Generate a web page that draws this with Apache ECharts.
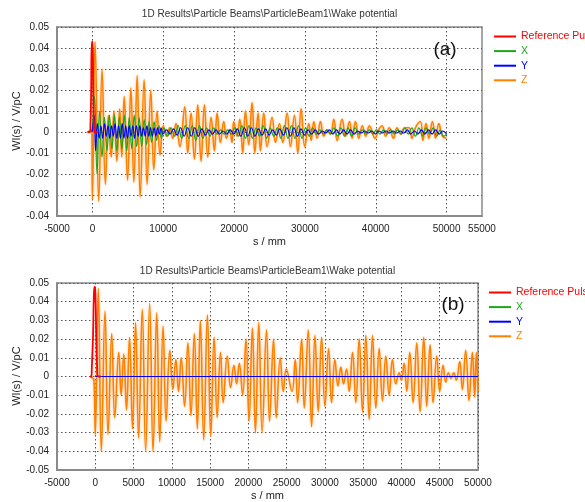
<!DOCTYPE html>
<html><head><meta charset="utf-8">
<script src="https://cdn.jsdelivr.net/npm/echarts@6.0.0/dist/echarts.min.js"></script>
<style>html,body{margin:0;padding:0;background:#fff}#c{width:585px;height:502px}</style>
</head><body><div id="c"></div>
<script>
// ---------- data (s in mm, W in V/pC) ----------
const seriesNames = ['Reference Pulse', 'X', 'Y', 'Z'];
const seriesColors = ['#ff0000', '#1aa81a', '#0000ff', '#ff8000'];
const yTicksA = [-0.04, 0.05];
const yTicksB = [-0.05, 0.05];
const xRangeA = [-5000, 55000];
const xRangeB = [-5000, 50000];

// (a) panel
const refA = [[-700,0],[-350,0],[-280,0.003],[-190,0.017],[-80,0.043],[20,0.043],[130,0.017],[220,0.003],[300,0],[700,0]];
const xA = [[-100,0],[0,0.002],[300,0.017],[650,-0.020],[1000,0.010],[1350,-0.012],[1700,0.007],[2050,-0.009],[2400,0.008],[2750,-0.008],[3100,0.008],[3450,-0.009],[3800,0.007],[4150,-0.008],[4500,0.008],[4850,-0.009],[5200,0.007],[5550,-0.008],[5900,0.008],[6250,-0.007],[6600,0.007],[6950,-0.007],[7300,0.006],[7650,-0.006],[8000,0.005],[8350,-0.005],[8700,0.005],[9050,-0.004],[9400,0.003],[9750,-0.003],[10100,0.002],[10600,-0.002],[11100,0.002],[11600,-0.002],[12100,0.003],[12600,-0.003],[13100,0.003],[13600,-0.003],[14100,0.003],[14600,-0.004],[15100,0.003],[15600,-0.003],[16100,0.002],[16600,-0.002],[17100,0.002],[17600,-0.001],[18100,0.001],[18600,-0.001],[19100,0.001],[19600,-0.001],[20100,0.002],[20600,-0.002],[21100,0.003],[21600,-0.003],[22100,0.003],[22600,-0.003],[23100,0.002],[23600,-0.002],[24100,0.003],[24600,-0.003],[25100,0.002],[25600,-0.002],[26100,0.002],[26600,-0.003],[27100,0.003],[27600,-0.003],[28100,0.003],[28600,-0.003],[29100,0.003],[29600,-0.003],[30100,0.002],[30600,-0.002],[31100,0.002],[31600,-0.001],[32100,0.001],[32600,-0.001],[33100,0.001],[33600,-0.001],[34100,0.002],[34600,-0.002],[35100,0.002],[35600,-0.002],[36100,0.002],[36600,-0.002],[37100,0.002],[37600,-0.001],[38100,0.001],[38600,-0.001],[39100,0.001],[39600,-0.001],[40100,0.001],[40600,-0.001],[41100,0.001],[41600,-0.001],[42100,0.001],[42600,-0.001],[43100,0.001],[43600,-0.001],[44100,0.002],[44600,-0.001],[45100,0.002],[45600,-0.002],[46100,0.002],[46600,-0.002],[47100,0.002],[47600,-0.001],[48100,0.002],[48600,-0.002],[49100,0.001],[49600,-0.002],[50000,-0.001]];
const yA = [[-100,0],[0,0.001],[250,0.008],[450,-0.009],[700,0.004],[950,-0.003],[1200,0.003],[1450,-0.003],[1700,0.004],[1950,-0.002],[2200,0.003],[2450,-0.003],[2700,0.003],[2950,-0.002],[3200,0.004],[3450,-0.003],[3700,0.003],[3950,-0.003],[4200,0.004],[4450,-0.003],[4700,0.003],[4950,-0.003],[5200,0.003],[5450,-0.002],[5700,0.003],[5950,-0.003],[6200,0.003],[6450,-0.002],[6700,0.003],[6950,-0.002],[7200,0.002],[7450,-0.002],[7700,0.003],[7950,-0.002],[8200,0.002],[8450,-0.002],[8700,0.002],[8950,-0.002],[9200,0.002],[9450,-0.001],[9700,0.002],[9950,-0.001],[10450,0.001],[10950,-0.001],[11450,0.0015],[11950,-0.0015],[12450,0.002],[12950,-0.002],[13450,0.002],[13950,-0.002],[14450,0.002],[14950,-0.002],[15450,0.0015],[15950,-0.0015],[16450,0.001],[16950,-0.001],[17450,0.001],[17950,-0.001],[18450,0.0005],[18950,-0.001],[19450,0.001],[19950,-0.001],[20450,0.0015],[20950,-0.002],[21450,0.002],[21950,-0.002],[22450,0.002],[22950,-0.002],[23450,0.0015],[23950,-0.0015],[24450,0.0015],[24950,-0.0015],[25450,0.001],[25950,-0.0015],[26450,0.0015],[26950,-0.0015],[27450,0.002],[27950,-0.002],[28450,0.002],[28950,-0.002],[29450,0.0015],[29950,-0.0015],[30450,0.001],[30950,-0.001],[31450,0.001],[31950,-0.001],[32450,0.0005],[32950,-0.0005],[33450,0.001],[33950,-0.001],[34450,0.001],[34950,-0.001],[35450,0.001],[35950,-0.001],[36450,0.001],[36950,-0.001],[37450,0.0005],[37950,-0.0005],[38450,0.0005],[38950,-0.0005],[39450,0.0005],[39950,-0.001],[40450,0.0005],[40950,-0.0005],[41450,0.0005],[41950,-0.0005],[42450,0.0005],[42950,-0.0005],[43450,0.0005],[43950,-0.0005],[44450,0.001],[44950,-0.001],[45450,0.0005],[45950,-0.001],[46450,0.001],[46950,-0.001],[47450,0.001],[47950,-0.001],[48450,0.001],[48950,-0.001],[49450,0.0005],[50000,-0.001]];
const zA = [[-650,0],[-100,0.001],[0,-0.032],[370,0.043],[890,-0.033],[1360,0.030],[1830,-0.025],[2250,0.008],[2650,-0.012],[3050,0.010],[3450,-0.014],[3850,0.011],[4150,-0.012],[4490,0.017],[4960,-0.023],[5430,0.021],[5850,-0.024],[6320,0.027],[6740,-0.031],[7300,0.025],[7720,-0.025],[8240,0.020],[8660,-0.018],[9130,0.010],[9550,-0.011],[10000,0.003],[10450,-0.002],[10900,0.002],[11350,-0.003],[11800,0.004],[12350,-0.007],[13032,0.012],[13456,-0.010],[13927,0.009],[14397,-0.013],[14868,0.013],[15339,-0.014],[15810,0.013],[16281,-0.012],[16752,0.007],[17222,-0.009],[17599,0.009],[18070,-0.005],[18540,0.005],[18917,-0.003],[19341,0.001],[19717,-0.005],[19953,0.005],[20424,-0.002],[20800,0.006],[21224,-0.010],[21600,0.010],[22071,-0.006],[22542,0.014],[22919,-0.010],[23390,0.009],[23719,-0.009],[24190,0.009],[24661,-0.007],[25367,0.007],[25838,-0.005],[26403,0.004],[26874,-0.005],[27486,0.009],[27957,-0.007],[28522,0.008],[28993,-0.010],[29464,0.011],[29981,-0.007],[30546,0.004],[30876,-0.004],[31253,0.005],[31723,-0.003],[32194,0.005],[32665,-0.002],[33136,0.001],[33607,-0.001],[34078,0.006],[34549,-0.004],[35254,0.006],[35725,-0.002],[36290,0.005],[36667,-0.003],[37138,0.005],[37600,-0.003],[38100,0.003],[38600,-0.002],[39100,0.003],[39900,-0.003],[40400,0.001],[40900,0.003],[41400,-0.002],[41900,0.002],[42500,-0.003],[43000,0.002],[43500,-0.001],[44100,0.002],[44700,0.002],[45100,-0.003],[45600,0.002],[46300,0.005],[46650,-0.004],[47100,0.004],[47500,-0.003],[48000,0.005],[48450,-0.003],[48900,0.004],[49400,-0.002],[50000,-0.003]];

// (b) panel
const refB = [[-700,0],[-500,0],[-450,0.005],[-300,0.021],[-180,0.044],[-80,0.048],[20,0.044],[130,0.021],[250,0.005],[350,0],[700,0]];
const xB = [[0,0],[50000,0]];
const yB = [[0,0],[50000,0]];
const zB = [[-600,0],[-175,-0.002],[0,-0.031],[395,0.047],[790,-0.040],[1272,0.035],[1667,-0.031],[2149,0.023],[2544,-0.022],[3070,0.013],[3377,-0.010],[3728,0.012],[4079,-0.018],[4474,0.021],[4868,-0.028],[5263,0.029],[5658,-0.033],[6140,0.036],[6579,-0.040],[7105,0.039],[7544,-0.040],[8026,0.034],[8421,-0.035],[8860,0.027],[9254,-0.024],[9737,0.014],[10132,-0.007],[10526,0.009],[10877,-0.008],[11228,0.010],[11667,-0.016],[12105,0.018],[12500,-0.021],[12939,0.023],[13333,-0.028],[13728,0.030],[14167,-0.034],[14649,0.033],[15088,-0.032],[15526,0.021],[15921,-0.022],[16360,0.013],[16711,-0.014],[17237,0.011],[17675,-0.006],[18114,0.006],[18465,-0.004],[18816,0.007],[19254,-0.010],[19693,0.020],[20088,-0.024],[20526,0.026],[20921,-0.030],[21360,0.029],[21798,-0.030],[22368,0.025],[22763,-0.024],[23289,0.020],[23640,-0.022],[24167,0.010],[24561,-0.008],[24956,0.004],[25696,-0.008],[26130,0.009],[26435,-0.014],[26957,0.020],[27304,-0.017],[27826,0.025],[28261,-0.027],[28696,0.022],[29130,-0.019],[29565,0.021],[30000,-0.016],[30478,0.015],[30870,-0.014],[31304,0.009],[31696,-0.005],[32087,0.005],[32435,-0.004],[32826,0.004],[33174,-0.008],[33609,0.013],[34043,-0.014],[34478,0.020],[34913,-0.019],[35348,0.022],[35783,-0.023],[36217,0.022],[36652,-0.017],[37087,0.015],[37522,-0.013],[37957,0.011],[38391,-0.010],[38826,0.009],[39261,-0.004],[39696,0.002],[40000,-0.002],[40348,0.007],[40696,-0.008],[41087,0.013],[41522,-0.014],[42000,0.018],[42435,-0.019],[42913,0.021],[43304,-0.016],[43739,0.017],[44130,-0.014],[44609,0.011],[45000,-0.008],[45435,0.006],[45783,-0.003],[46130,0.002],[46478,-0.001],[46826,0.002],[47174,-0.002],[47609,0.008],[47957,-0.007],[48391,0.014],[48826,-0.013],[49261,0.013],[49565,-0.011],[49783,0.013],[50000,-0.008]];

const titleText = '1D Results\\Particle Beams\\ParticleBeam1\\Wake potential';
const yName = 'Wl(s) / V/pC';
const xName = 's / mm';

// ---------- chart ----------
const FONT = 'Liberation Sans, Arial, sans-serif';
const chart = echarts.init(document.getElementById('c'), null, {renderer: 'canvas'});
const fmtY = v => String(Math.round(v * 100) / 100);
const grids = [
  {left: 57, top: 27, width: 425, height: 189},
  {left: 57, top: 283, width: 421, height: 187}
];
const dotted = {color: '#555', width: 1, type: [1.5, 2.5]};
function xAxisCfg(idx, range, labelFilter, splitColor) {
  return {
    type: 'value', gridIndex: idx, min: range[0], max: range[1], interval: 5000,
    axisLine: {show: true, onZero: false, lineStyle: {color: '#8a8a8a', width: 2}},
    axisTick: {show: false},
    axisLabel: {show: true, interval: 0, hideOverlap: false, margin: 8, color: '#222', fontSize: 10, fontFamily: FONT,
      showMinLabel: true, showMaxLabel: true,
      formatter: v => labelFilter(v) ? String(v) : ''},
    splitLine: {show: true, lineStyle: Object.assign({}, dotted, {color: splitColor})}
  };
}
function yAxisCfg(idx, range) {
  return {
    type: 'value', gridIndex: idx, min: range[0], max: range[1], interval: 0.01,
    axisLine: {show: true, onZero: false, lineStyle: {color: '#8a8a8a', width: 2}},
    axisTick: {show: false},
    axisLabel: {margin: 8, color: '#222', fontSize: 10, fontFamily: FONT, formatter: fmtY, showMinLabel: true, showMaxLabel: true},
    splitLine: {show: true, lineStyle: dotted}
  };
}
function mkSeries(name, color, data, gi, width, extra) {
  return Object.assign({
    name, type: 'line', xAxisIndex: gi, yAxisIndex: gi, data,
    showSymbol: false, symbol: 'none', smooth: 0.45, animation: false,
    lineStyle: {color, width: width}, itemStyle: {color}
  }, extra || {});
}
const zStyle = {lineStyle: {color: '#ff8000', width: 1.6, shadowColor: 'rgba(255,150,60,0.55)', shadowBlur: 3}};
function legendCfg(left, top) {
  return {
    left, top, padding: 0, orient: 'vertical', icon: 'rect', itemWidth: 22, itemHeight: 2, itemGap: 2.6,
    textStyle: {fontSize: 10.5, fontFamily: FONT, lineHeight: 12},
    data: seriesNames.map((n, i) => ({name: n, textStyle: {color: seriesColors[i]}})),
    selectedMode: false
  };
}
function txt(x, y, text, font, fill, rot) {
  return {type: 'text', x, y, rotation: rot || 0, silent: true,
    style: {text, font, fill, align: 'center', verticalAlign: 'middle', textAlign: 'center', textVerticalAlign: 'middle'}};
}

chart.setOption({
  backgroundColor: '#fff',
  animation: false,
  grid: grids.map(g => Object.assign({show: true, borderColor: '#8a8a8a', borderWidth: 1.5, backgroundColor: '#fff'}, g)),
  xAxis: [
    xAxisCfg(0, xRangeA, v => v % 10000 === 0 || v === xRangeA[0] || v === xRangeA[1], ['rgba(0,0,0,0)', '#555']),
    xAxisCfg(1, xRangeB, v => true, '#555')
  ],
  yAxis: [yAxisCfg(0, yTicksA), yAxisCfg(1, yTicksB)],
  legend: [legendCfg(494, 30.5), legendCfg(489, 286.5)],
  series: [
    mkSeries('Z', '#ff8000', zA, 0, 1.6, zStyle),
    mkSeries('X', seriesColors[1], xA, 0, 1.2),
    mkSeries('Y', seriesColors[2], yA, 0, 1.1),
    mkSeries('Reference Pulse', seriesColors[0], refA, 0, 1.8),
    mkSeries('Z', '#ff8000', zB, 1, 1.6, zStyle),
    mkSeries('X', seriesColors[1], xB, 1, 1.2),
    mkSeries('Y', seriesColors[2], yB, 1, 1.2),
    mkSeries('Reference Pulse', seriesColors[0], refB, 1, 1.8)
  ],
  graphic: [
    txt(269.5, 14, titleText, '10px ' + FONT, '#333'),
    txt(267.5, 271, titleText, '10px ' + FONT, '#333'),
    txt(17, 121, yName, '11px ' + FONT, '#222', Math.PI / 2),
    txt(17, 376, yName, '11px ' + FONT, '#222', Math.PI / 2),
    txt(269.5, 242, xName, '11px ' + FONT, '#222'),
    txt(267.5, 496, xName, '11px ' + FONT, '#222'),
    txt(445, 50, '(a)', '19px ' + FONT, '#111'),
    txt(453, 305, '(b)', '19px ' + FONT, '#111')
  ]
});
</script></body></html>
